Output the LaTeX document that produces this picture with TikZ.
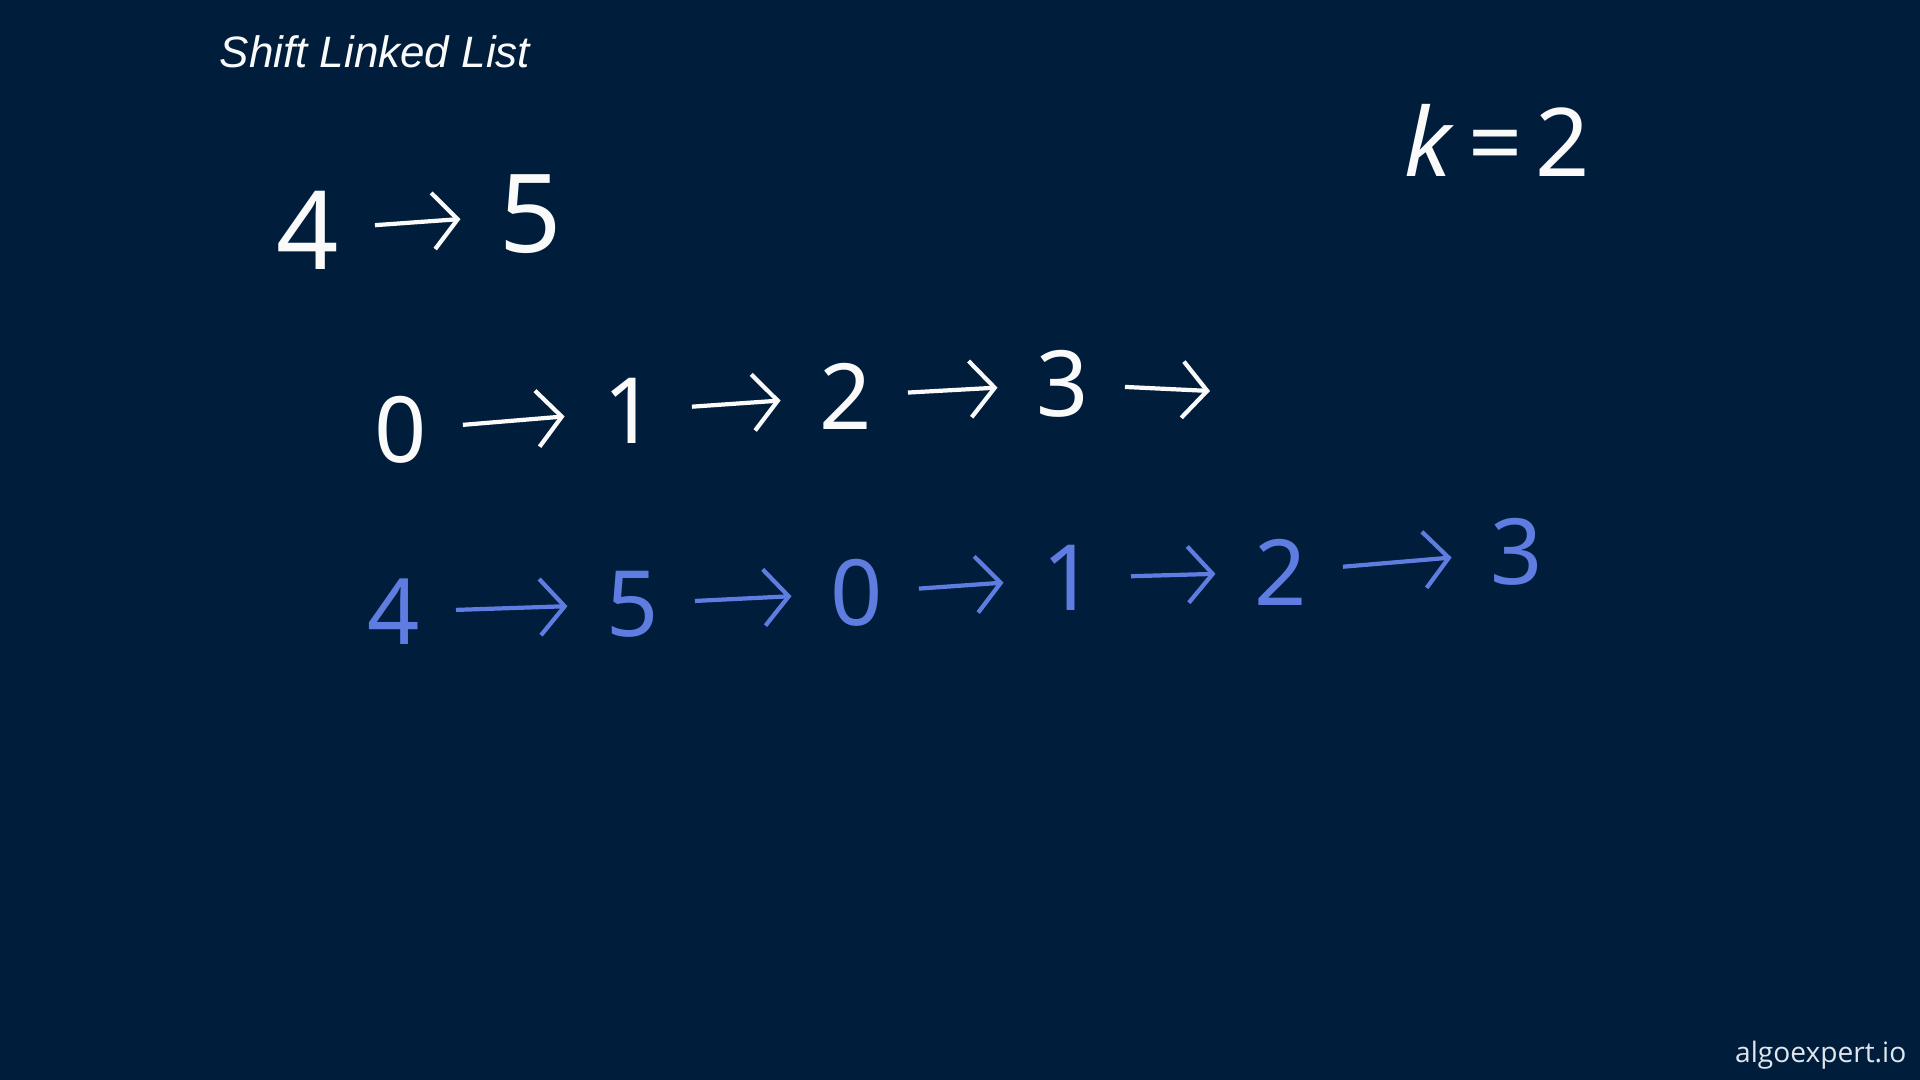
\documentclass[tikz,border=0pt]{standalone}
\usepackage{fontspec}
\setmainfont{Noto Sans}
\newfontfamily\titlefont{Liberation Sans}
\newfontfamily\markfont{Open Sans}
\usepackage{xcolor}
\definecolor{board}{RGB}{0,30,60}
\definecolor{chalk}{RGB}{250,250,250}
\definecolor{penblue}{RGB}{95,125,225}
\definecolor{marktext}{RGB}{225,230,238}
\usetikzlibrary{arrows.meta}

\begin{document}
\begin{tikzpicture}[
        x=0.01cm, y=-0.01cm,
        digit/.style={text=#1, inner sep=0pt, font=\fontsize{26}{30}\selectfont},
        bigdigit/.style={text=#1, inner sep=0pt, font=\fontsize{31}{36}\selectfont},
        link/.style={-{Straight Barb[length=7pt,width=16pt]}, line width=1.2pt, color=#1,
            shorten <=10pt, shorten >=11pt}
    ]
        % board and margins
        \fill[board] (0,0) rectangle (1920,1080);
        \useasboundingbox (0,0) rectangle (1920,1080);

        \node[anchor=base west, text=chalk, inner sep=0pt, font=\titlefont\itshape\fontsize{12.5}{15}\selectfont] (title) at (219,68) {Shift Linked List};
        \node[bigdigit=chalk, font=\fontsize{27}{32}\selectfont] (k) at (1497,140) {\itshape k\hspace{0.16em}=\hspace{0.16em}\upshape 2};

        % list before the shift
        \node[bigdigit=chalk] (a4) at (308,230) {4};
        \node[bigdigit=chalk] (a5) at (531,214) {5};
        \draw[link=chalk] (a4) -- (a5);

        \node[digit=chalk] (w0) at (401,430) {0};
        \node[digit=chalk] (w1) at (630,411) {1};
        \node[digit=chalk] (w2) at (846,396) {2};
        \node[digit=chalk] (w3) at (1063,384) {3};
        \coordinate (wend) at (1210,391);
        \draw[link=chalk] (w0) -- (w1);
        \draw[link=chalk] (w1) -- (w2);
        \draw[link=chalk] (w2) -- (w3);
        \draw[link=chalk, shorten >=0pt] (w3) -- (wend);

        % shifted list
        \node[digit=penblue] (b4) at (394,612) {4};
        \node[digit=penblue] (b5) at (633,604) {5};
        \node[digit=penblue] (b0) at (857,593) {0};
        \node[digit=penblue] (b1) at (1069,578) {1};
        \node[digit=penblue] (b2) at (1281,572) {2};
        \node[digit=penblue] (b3) at (1517,552) {3};
        \draw[link=penblue] (b4) -- (b5);
        \draw[link=penblue] (b5) -- (b0);
        \draw[link=penblue] (b0) -- (b1);
        \draw[link=penblue] (b1) -- (b2);
        \draw[link=penblue] (b2) -- (b3);

        \node[anchor=base east, text=marktext, inner sep=0pt, font=\markfont\fontsize{8}{10}\selectfont] (mark) at (1907,1063) {algoexpert.io};
    \end{tikzpicture}
\end{document}
